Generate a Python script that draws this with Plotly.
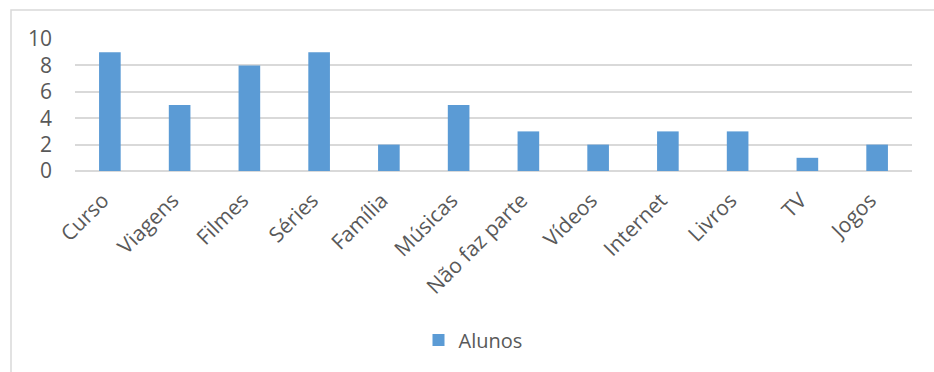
import plotly.graph_objects as go

categorias = ["Curso", "Viagens", "Filmes", "Séries", "Família", "Músicas",
              "Não faz parte", "Vídeos", "Internet", "Livros", "TV", "Jogos"]
alunos = [9, 5, 8, 9, 2, 5, 3, 2, 3, 3, 1, 2]
y_ticks = [0, 2, 4, 6, 8, 10]

W, H = 934, 372
L, R, T, B = 75, 22, 39, 201
pw, ph = W - L - R, H - T - B

texto = "#595959"
grade = "#D9D9D9"
fonte = "Open Sans"

fig = go.Figure(
    go.Bar(
        x=categorias,
        y=alunos,
        name="Alunos",
        marker=dict(color="#5B9BD5", line=dict(width=0)),
    )
)

# outer chart frame (extends past the right and bottom edges)
fig.add_shape(
    type="rect", xref="paper", yref="paper",
    x0=(11 - L) / pw, x1=(W + 10 - L) / pw,
    y0=-(H + 10 - T - ph) / ph, y1=1 + (T - 10) / ph,
    line=dict(color=grade, width=1.5), fillcolor="rgba(0,0,0,0)", layer="below",
)

fig.update_layout(
    width=W, height=H,
    margin=dict(l=L, r=R, t=T, b=B),
    paper_bgcolor="white", plot_bgcolor="white",
    font=dict(family=fonte, size=21, color=texto),
    bargap=0.69,
    showlegend=True,
    legend=dict(
        orientation="h", x=(473 - L) / pw, xanchor="center",
        y=(T + ph - 340) / ph, yanchor="middle",
        font=dict(size=20, color=texto),
        itemwidth=30,
    ),
    xaxis=dict(
        tickangle=-45, showgrid=False, showline=False, ticks="",
        ticklabelstandoff=12, ticklabelshift=-7,
        tickfont=dict(size=21, color=texto),
    ),
    yaxis=dict(
        range=[0, 10], tickvals=y_ticks, showgrid=True, gridcolor=grade,
        gridwidth=1.5, zeroline=True, zerolinecolor=grade, zerolinewidth=1.5,
        showline=False, ticks="", ticklabelstandoff=22,
        tickfont=dict(size=21, color=texto),
    ),
)

fig.write_html("out.html")
